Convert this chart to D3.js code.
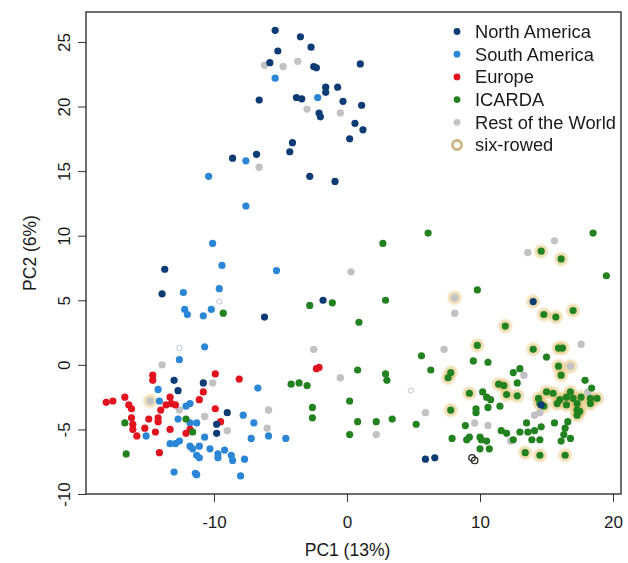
<!DOCTYPE html>
<html><head><meta charset="utf-8">
<script src="https://cdn.jsdelivr.net/npm/d3@7"></script>
<style>body{margin:0;background:#fff}svg{display:block}text{font-family:"Liberation Sans",Arial,sans-serif;fill:#1a1a1a}</style>
</head><body><svg id="c" width="628" height="563"></svg>
<script>
const northAmerica = [[-5.4,25.9],[-3.5,25.4],[-2.7,24.6],[-5.2,24.3],[-5.8,23.4],[-2.5,23.1],[-2.3,23.0],[1.0,23.3],[-6.6,20.5],[-3.8,20.7],[-3.4,20.6],[-1.6,21.5],[-1.6,21.1],[-0.7,21.5],[-0.3,20.4],[1.1,20.1],[-2.1,19.5],[-2.0,19.2],[0.6,18.7],[1.2,18.2],[0.2,17.5],[-4.1,17.2],[-4.3,16.5],[-8.6,16.0],[-6.8,16.3],[-2.8,14.6],[-0.9,14.2],[-13.7,7.4],[-13.9,5.5],[-6.2,3.7],[-1.8,5.0],[14.0,4.9],[-10.8,-1.4],[-12.7,-2.0],[-13.0,-1.2],[-9.0,-3.7],[-9.8,-4.6],[-9.8,-5.3],[5.9,-7.3],[6.6,-7.2],[14.6,-3.1]];
const southAmerica = [[-5.4,22.2],[-2.2,20.7],[-7.6,15.8],[-10.4,14.6],[-7.6,12.3],[-10.1,9.4],[-9.4,7.7],[-5.3,7.3],[-12.3,5.6],[-9.6,5.9],[-12.2,4.3],[-12.0,3.9],[-10.8,3.8],[-10.2,4.3],[-10.7,1.4],[-12.6,0.4],[-14.2,-1.9],[-6.7,-1.8],[-14.1,-2.8],[-11.8,-3.0],[-12.1,-3.2],[-7.8,-3.9],[-12.7,-4.2],[-11.8,-4.5],[-11.3,-4.5],[-10.7,-5.6],[-15.1,-5.5],[-7.0,-4.5],[-7.2,-5.7],[-5.9,-5.5],[-4.6,-5.7],[-13.3,-6.1],[-12.9,-6.1],[-12.6,-5.9],[-11.8,-6.3],[-11.6,-6.5],[-11.1,-6.3],[-10.3,-6.5],[-9.7,-6.9],[-9.7,-7.2],[-9.2,-6.6],[-11.3,-7.0],[-11.1,-7.2],[-8.7,-7.0],[-8.6,-7.4],[-7.7,-7.3],[-13.0,-8.3],[-11.4,-8.4],[-11.3,-8.5],[-8.0,-8.6]];
const europe = [[-14.6,-0.8],[-14.6,-1.2],[-9.9,-0.7],[-8.1,-1.1],[-18.1,-2.9],[-17.6,-2.8],[-16.7,-2.5],[-16.4,-3.1],[-16.2,-3.4],[-13.3,-2.5],[-13.2,-3.0],[-14.0,-3.5],[-13.6,-3.1],[-12.9,-3.1],[-10.8,-2.1],[-11.1,-2.7],[-9.9,-3.4],[-16.2,-4.1],[-16.1,-4.6],[-14.9,-4.2],[-14.2,-4.1],[-14.2,-4.4],[-9.5,-4.4],[-16.1,-5.0],[-15.8,-5.5],[-15.2,-4.9],[-14.4,-5.2],[-13.3,-5.0],[-12.1,-5.3],[-11.8,-5.0],[-14.1,-6.8],[-2.3,-0.3],[-2.1,-0.2]];
const icarda = [[6.1,10.2],[2.7,9.4],[-2.8,4.6],[-1.1,4.8],[2.9,5.0],[0.9,3.3],[5.6,0.7],[6.3,-0.4],[0.8,-0.4],[2.9,-0.7],[3.0,-1.2],[-4.2,-1.5],[-3.6,-1.4],[-3.0,-1.6],[0.2,-2.8],[-2.6,-3.3],[-2.6,-4.1],[0.8,-4.4],[2.2,-4.4],[3.4,-4.2],[5.2,-4.6],[0.2,-5.4],[18.5,10.2],[14.6,8.8],[16.1,8.2],[19.5,6.9],[9.8,5.8],[14.8,3.9],[15.7,3.7],[17.0,4.2],[11.9,3.0],[9.8,1.5],[14.0,1.2],[15.9,1.3],[16.2,1.3],[15.0,0.6],[9.5,0.3],[10.6,0.2],[13.0,-0.3],[12.5,-0.6],[17.9,-1.2],[18.4,-1.8],[11.4,-1.5],[11.8,-1.6],[12.8,-1.4],[9.2,-2.2],[10.2,-2.1],[10.5,-2.5],[10.8,-2.7],[12.0,-2.3],[12.8,-2.4],[7.8,-3.5],[9.7,-3.4],[9.7,-3.7],[10.6,-3.3],[11.5,-3.2],[8.9,-4.7],[7.9,-5.7],[9.0,-5.8],[9.2,-5.6],[10.0,-5.6],[10.1,-5.8],[10.5,-5.9],[10.0,-6.5],[10.7,-6.5],[11.6,-5.1],[12.0,-5.3],[12.5,-5.8],[13.0,-5.2],[13.5,-4.5],[13.6,-5.2],[14.1,-5.1],[13.9,-5.8],[14.5,-5.8],[14.6,-4.8],[13.4,-6.8],[14.5,-7.0],[16.4,-7.0],[15.6,-4.5],[16.6,-4.4],[16.4,-4.9],[16.3,-5.4],[16.1,-5.9],[16.8,-5.7],[14.4,-2.6],[15.0,-2.1],[15.5,-2.2],[16.0,-2.7],[16.5,-2.5],[17.0,-2.6],[17.6,-2.5],[18.3,-2.6],[18.8,-2.6],[14.5,-3.0],[14.8,-3.2],[15.8,-3.0],[16.5,-3.1],[17.3,-3.0],[18.3,-3.0],[17.3,-3.5],[17.3,-3.9],[17.5,-3.6],[16.8,-2.1],[-16.6,-6.9],[-16.7,-4.5],[-12.1,-4.2],[-11.6,-5.2],[-9.3,4.0],[7.8,-0.6],[7.6,-1.0],[15.9,-0.1],[16.1,-0.8]];
const restOfWorld = [[-6.2,23.2],[-4.8,23.1],[-3.7,23.5],[-3.0,19.8],[-0.5,19.5],[-6.6,15.3],[0.3,7.2],[-2.5,1.2],[-0.5,-1.0],[5.9,-3.7],[2.2,-5.4],[-13.9,0.0],[-10.1,-1.4],[-14.8,-2.8],[-5.9,-3.5],[-12.6,-3.5],[-10.7,-4.0],[-9.0,-5.1],[-6.0,-4.9],[15.6,9.6],[13.6,8.7],[8.1,5.2],[8.1,4.0],[7.3,1.2],[17.6,1.6],[13.3,-0.8],[16.8,-0.1],[9.6,-4.5],[10.6,-4.7],[12.3,-5.9],[14.1,-3.9],[14.5,-3.7],[18.1,-2.1]];
const sixRowed = [[14.6,8.8],[16.1,8.2],[14.0,4.9],[14.8,3.9],[15.7,3.7],[17.0,4.2],[11.9,3.0],[9.8,1.5],[8.1,5.2],[11.4,-1.5],[11.8,-1.6],[9.2,-2.2],[12.0,-2.3],[12.8,-2.4],[14.4,-2.6],[15.0,-2.1],[15.5,-2.2],[16.0,-2.7],[16.5,-2.5],[17.0,-2.6],[17.6,-2.5],[18.3,-2.6],[18.8,-2.6],[14.5,-3.0],[14.8,-3.2],[15.8,-3.0],[16.5,-3.1],[17.3,-3.0],[18.3,-3.0],[17.3,-3.5],[17.3,-3.9],[17.5,-3.6],[16.8,-2.1],[13.4,-6.8],[14.5,-7.0],[16.4,-7.0],[16.8,-0.1],[15.9,-0.1],[16.1,-0.8],[7.8,-0.6],[7.6,-1.0],[-14.8,-2.8],[14.0,1.2],[15.9,1.3],[16.2,1.3],[7.8,-3.5]];
const openLight = [[-9.6,4.9],[-12.6,1.3],[4.8,-2.0]];
const openDark = [[9.4,-7.2],[9.6,-7.4]];
const xTicks = [-10,0,10,20];
const yTicks = [-10,-5,0,5,10,15,20,25];
const legendLabels = ["North America","South America","Europe","ICARDA","Rest of the World","six-rowed"];
const colors = {na:"#0d3c74", sa:"#2b86d6", eu:"#e1131f", ic:"#22821f", rw:"#c2c2c4", six:"#e0b85c", sixLeg:"#c9b27a"};

const svg = d3.select("#c");
const defs = svg.append("defs");
defs.append("filter").attr("id","soft").attr("x","-50%").attr("y","-50%").attr("width","200%").attr("height","200%")
  .append("feGaussianBlur").attr("stdDeviation",1.1);
const L=86,R=621,T=12,B=494;
const x = d3.scaleLinear().domain([-19.62,20.6]).range([L,R]);
const y = d3.scaleLinear().domain([-10,27.32]).range([B,T]);
const fmt = d => String(d);

// axes
const gx = svg.append("g").attr("transform",`translate(0,${B})`)
  .call(d3.axisBottom(x).tickValues(xTicks).tickSize(8).tickFormat(fmt));
gx.select(".domain").remove();
gx.selectAll("line").attr("stroke","#333");
gx.selectAll("text").attr("y",22).attr("dy","0.71em").style("font-size","17px").attr("fill","#1a1a1a")
  .style("font-family","Liberation Sans, Arial, sans-serif");
const gy = svg.append("g").attr("transform",`translate(${L},0)`)
  .call(d3.axisLeft(y).tickValues(yTicks).tickSize(8).tickFormat(fmt));
gy.select(".domain").remove();
gy.selectAll("line").attr("stroke","#333");
gy.selectAll("text").attr("transform","rotate(-90)").attr("x",0).attr("y",-16).attr("dy",0)
  .attr("text-anchor","middle").style("font-size","17px").attr("fill","#1a1a1a")
  .style("font-family","Liberation Sans, Arial, sans-serif");

svg.append("text").attr("x",(L+R)/2 - 6).attr("y",556).attr("text-anchor","middle").style("font-size","17.5px").text("PC1 (13%)");
svg.append("text").attr("transform",`translate(36,${(T+B)/2}) rotate(-90)`).attr("text-anchor","middle").style("font-size","17.5px").text("PC2 (6%)");

// points
const pts = svg.append("g");
function dots(data, color, r){
  pts.append("g").selectAll("circle").data(data).join("circle")
    .attr("cx",d=>x(d[0])).attr("cy",d=>y(d[1])).attr("r",r).attr("fill",color);
}
pts.append("g").attr("filter","url(#soft)").selectAll("circle").data(sixRowed).join("circle")
  .attr("cx",d=>x(d[0])).attr("cy",d=>y(d[1])).attr("r",5.0)
  .attr("fill","none").attr("stroke",colors.six).attr("stroke-width",3).attr("opacity",0.6);
dots(restOfWorld, colors.rw, 3.7);
dots(southAmerica, colors.sa, 3.6);
dots(europe, colors.eu, 3.6);
dots(icarda, colors.ic, 3.6);
dots(northAmerica, colors.na, 3.6);
pts.append("g").selectAll("circle").data(openLight).join("circle")
  .attr("cx",d=>x(d[0])).attr("cy",d=>y(d[1])).attr("r",2.6).attr("fill","#fff").attr("stroke","#b8c4d0").attr("stroke-width",1);
pts.append("g").selectAll("circle").data(openDark).join("circle")
  .attr("cx",d=>x(d[0])).attr("cy",d=>y(d[1])).attr("r",3.2).attr("fill","none").attr("stroke","#2a2a20").attr("stroke-width",1.3);

// box
svg.append("rect").attr("x",L).attr("y",T).attr("width",R-L).attr("height",B-T)
  .attr("fill","none").attr("stroke","#222").attr("stroke-width",1.3);

// legend
const legColors = [colors.na, colors.sa, colors.eu, colors.ic, colors.rw, null];
const lg = svg.append("g");
legendLabels.forEach((lab,i)=>{
  const cy = 31.5 + i*22.7;
  if (legColors[i]) lg.append("circle").attr("cx",457).attr("cy",cy).attr("r",3.4).attr("fill",legColors[i]);
  else lg.append("circle").attr("cx",457).attr("cy",cy).attr("r",4.6).attr("fill","none").attr("stroke",colors.sixLeg).attr("stroke-width",2.6);
  lg.append("text").attr("x",475).attr("y",cy).attr("dy","0.35em").style("font-size","18.3px").text(lab);
});
</script></body></html>
